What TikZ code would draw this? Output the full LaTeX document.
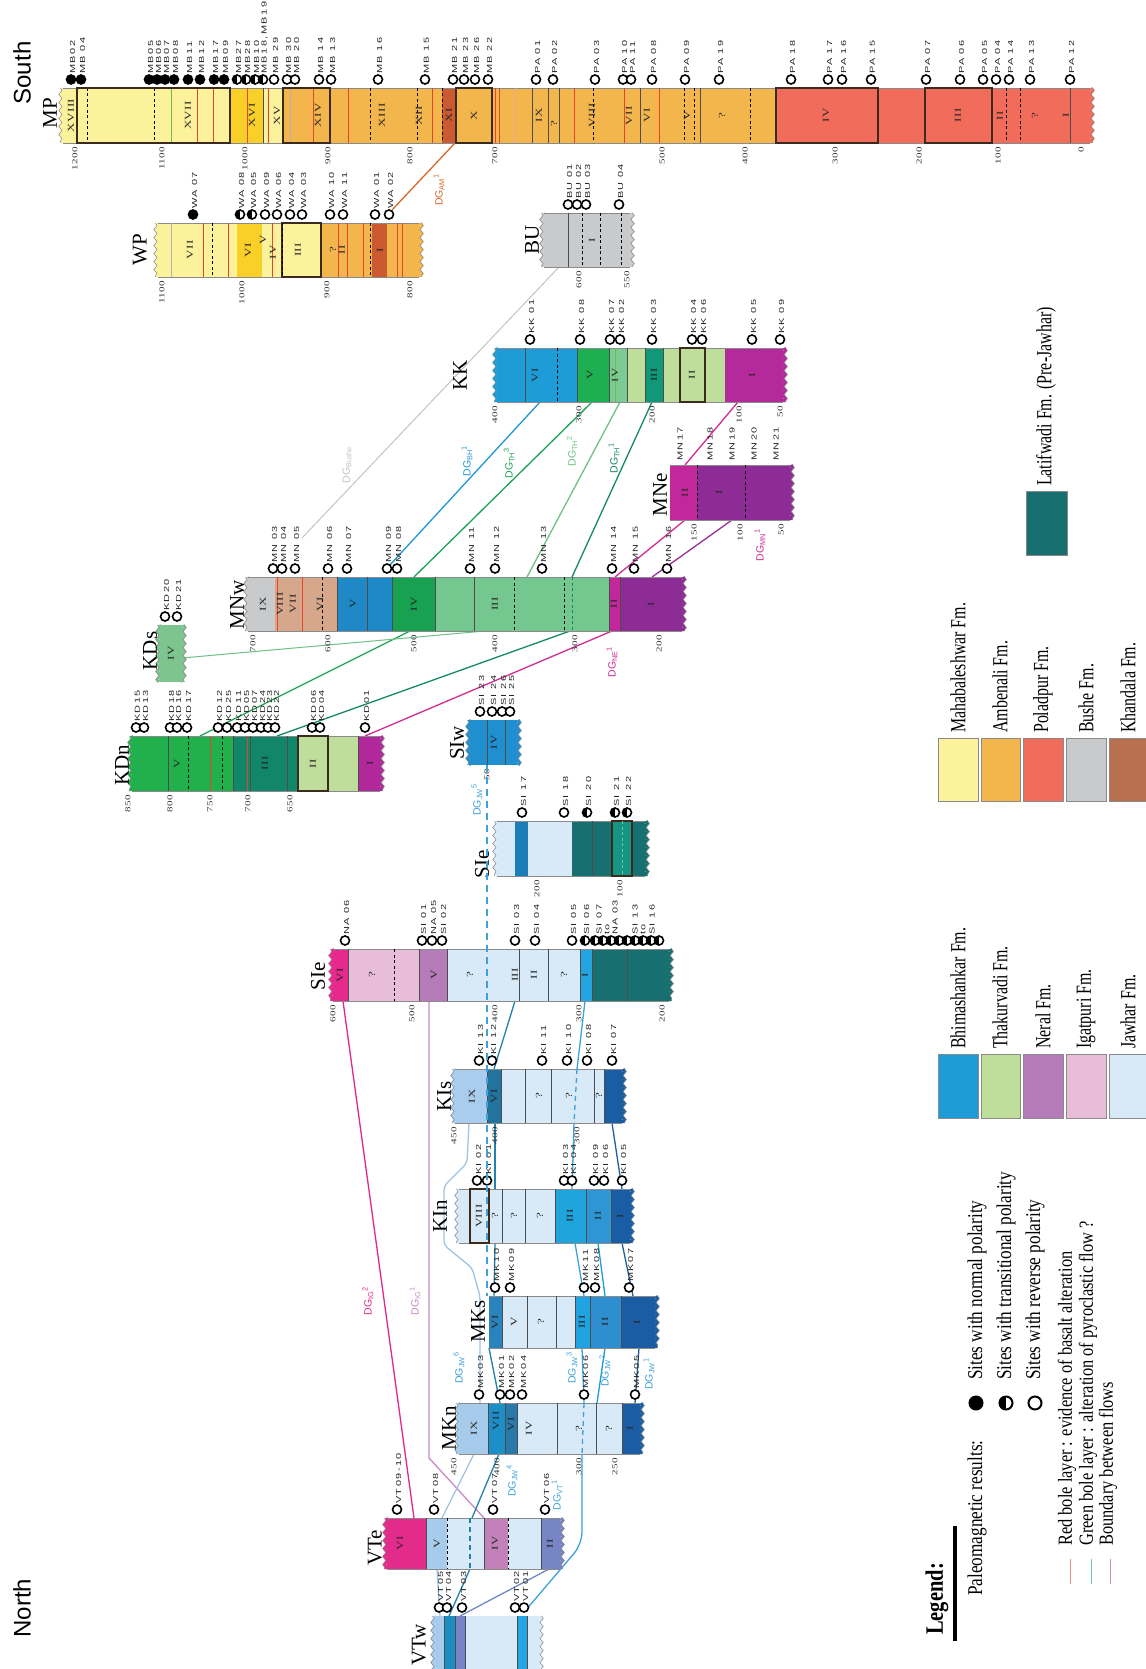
\documentclass[tikz,border=0pt]{standalone}
\usepackage{fontspec}
\setmainfont{Liberation Serif}
\newfontfamily\sitef[FakeStretch=1.5,LetterSpace=20]{Liberation Sans}
\newfontfamily\romfam[FakeStretch=1.45,LetterSpace=5]{Liberation Serif}
\newfontfamily\depfam[FakeStretch=1.45,LetterSpace=5]{Liberation Serif}
\newfontfamily\legfam[FakeStretch=0.74]{Liberation Serif}
\newfontfamily\legfamb[FakeStretch=0.82]{Liberation Serif}
\newfontfamily\sansf{Liberation Sans}
\usetikzlibrary{decorations.pathmorphing}
\definecolor{mah}{HTML}{FCF29B}
\definecolor{gold}{HTML}{F8D028}
\definecolor{amb}{HTML}{F2B64C}
\definecolor{pol}{HTML}{F26C5C}
\definecolor{bushe}{HTML}{C9CACC}
\definecolor{khd}{HTML}{CC5A30}
\definecolor{khleg}{HTML}{B87050}
\definecolor{tanc}{HTML}{D6A78A}
\definecolor{bhim}{HTML}{1E9CD7}
\definecolor{thak}{HTML}{BFDE9C}
\definecolor{neral}{HTML}{B67BB9}
\definecolor{igat}{HTML}{E8BDD7}
\definecolor{jaw}{HTML}{D8EAF7}
\definecolor{lat}{HTML}{17706F}
\definecolor{latB}{HTML}{169583}
\definecolor{kkV}{HTML}{1DAF52}
\definecolor{kkIV}{HTML}{7CCB94}
\definecolor{kkIII}{HTML}{109878}
\definecolor{kkI}{HTML}{B52A9B}
\definecolor{mnII}{HTML}{C2289B}
\definecolor{mnI}{HTML}{8E2C96}
\definecolor{mnwV}{HTML}{1F88C6}
\definecolor{mnwIV}{HTML}{18A150}
\definecolor{mnwIII}{HTML}{75C790}
\definecolor{kds}{HTML}{7DC48E}
\definecolor{kdV}{HTML}{22B04C}
\definecolor{kdIII}{HTML}{128669}
\definecolor{kdI}{HTML}{B0289A}
\definecolor{siw}{HTML}{1F8FCF}
\definecolor{sieB}{HTML}{1C7DB8}
\definecolor{sieVI}{HTML}{E6298C}
\definecolor{bhimI}{HTML}{22A5E0}
\definecolor{kiIX}{HTML}{A9CDEC}
\definecolor{kiVI}{HTML}{22749F}
\definecolor{kiI}{HTML}{1A5DA5}
\definecolor{kinIII}{HTML}{1FA4DD}
\definecolor{kinII}{HTML}{2E96D4}
\definecolor{mksVI}{HTML}{2A83BD}
\definecolor{mksIII}{HTML}{20A3E0}
\definecolor{mksII}{HTML}{2E8ED0}
\definecolor{mknVII}{HTML}{1C8EC8}
\definecolor{mknVI}{HTML}{2A79AB}
\definecolor{vteVI}{HTML}{E32B8C}
\definecolor{lblue}{HTML}{A7CBEA}
\definecolor{vteIV}{HTML}{C282B9}
\definecolor{vteII}{HTML}{7686C5}
\definecolor{vtwIII}{HTML}{1C8DC0}
\definecolor{rbole}{HTML}{E5452D}
\definecolor{gbole}{HTML}{6DBE45}
\definecolor{edgec}{HTML}{8A8A8A}
\definecolor{boxc}{HTML}{3B2A1E}
\definecolor{cAM}{HTML}{D86A2A}
\definecolor{cBU}{HTML}{C4C4C4}
\definecolor{cBH}{HTML}{2196D3}
\definecolor{cTH3}{HTML}{1EA257}
\definecolor{cTH2}{HTML}{6DC383}
\definecolor{cTH1}{HTML}{138A62}
\definecolor{cNE}{HTML}{D02C93}
\definecolor{cMN}{HTML}{9A2E98}
\definecolor{cJW}{HTML}{3DA2DB}
\definecolor{cIG2}{HTML}{E3288A}
\definecolor{cIG1}{HTML}{C98BC4}
\definecolor{cDk}{HTML}{1E5FA0}
\definecolor{cTeal}{HTML}{2382A8}
\definecolor{cLB}{HTML}{9CC4E6}
\newcommand\setbar[2]{\def\bt{#1}\def\bb{#2}\pgfmathsetmacro\bm{(#1+#2)/2}\pgfmathsetmacro\sy{#1-8.5}\pgfmathsetmacro\dy{#2+4}}
\newcommand\zS[3]{\fill[#3] (#1,\bt) rectangle (#2,\bb);}
\newcommand\zT[2][black!70]{\draw[#1,line width=0.7pt] (#2,\bt) -- (#2,\bb);}
\newcommand\zR[2][rbole]{\draw[#1,line width=1pt] (#2,\bt) -- (#2,\bb);}
\newcommand\zD[2][black]{\draw[#1,line width=0.9pt,dash pattern=on 3pt off 2.5pt] (#2,\bt) -- (#2,\bb);}
\newcommand\zB[2]{\draw[boxc,line width=1.8pt] (#1,\bt) rectangle (#2,\bb);}
\newcommand\zN[3][0]{\node[romf] at (#2,\bm+#1) {#3};}
\newcommand\zP[2]{\node[depf] at (#1,\dy) {#2};}
\newcommand\zC[3]{\node[sit#2] at (#1,\sy) {};\node[sitel] at (#1+1.5,\sy-5.5) {#3};}
\newcommand\zO[2]{\draw[edgec,line width=0.5pt] (#1,\bt) -- (#2,\bt) (#1,\bb) -- (#2,\bb);}
\newcommand\wL[2]{\draw[#2,line width=3.2pt,wavy] (#1-1,\bt) -- (#1-1,\bb);\draw[edgec,line width=0.5pt,wavy] (#1-2.6,\bt) -- (#1-2.6,\bb);}
\newcommand\wR[2]{\draw[#2,line width=3.2pt,wavy] (#1+1,\bt) -- (#1+1,\bb);\draw[edgec,line width=0.5pt,wavy] (#1+2.6,\bt) -- (#1+2.6,\bb);}
\tikzset{
 romf/.style={rotate=90,inner sep=0pt,font={\romfam\fontsize{9}{10}\selectfont},text=black!85},
 depf/.style={rotate=90,anchor=east,inner sep=0pt,font={\depfam\fontsize{7.6}{8}\selectfont},text=black!80},
 sitel/.style={rotate=90,anchor=west,inner sep=0pt,font={\sitef\fontsize{7.3}{8}\selectfont},text=black!85},
 sitN/.style={circle,draw=black,fill=black,line width=1.6pt,minimum size=9pt,inner sep=0pt},
 sitR/.style={sitN,fill=white},
 sitT/.style={sitR,path picture={\fill[black] (path picture bounding box.south west) rectangle (path picture bounding box.north);}},
 cname/.style={rotate=90,inner sep=0pt,font=\fontsize{21}{22}\selectfont},
 dglab/.style={rotate=90,inner sep=0pt,font={\sansf\fontsize{10.5}{11}\selectfont}},
 legt/.style={rotate=90,anchor=west,inner sep=0pt,font={\legfam\fontsize{21.5}{23}\selectfont}},
 legu/.style={rotate=90,anchor=west,inner sep=0pt,font={\legfamb\fontsize{21}{23}\selectfont}},
 wavy/.style={decorate,decoration={snake,amplitude=1.6pt,segment length=8pt}},
 cl/.style={line width=1.3pt},
 sw/.style={draw=edgec,line width=0.8pt}
}
\begin{document}
\begin{tikzpicture}[x=1pt,y=-1pt]
\useasboundingbox (0,0) rectangle (1145,1669);
\fill[white] (0,0) rectangle (1145,1669);

% ---------- correlation lines ----------
\draw[cAM,cl] (392,210) -- (455,143);
\draw[cBU,line width=1pt] (559,267) -- (302,538);
\draw[cBH,cl] (540,402) -- (389,566);
\draw[cTH3,cl] (592,402) -- (414,577);
\draw[cTH3,cl] (410,631) -- (200,736);
\draw[cTH2,cl] (620,402) -- (527,577);
\draw[cTH2,line width=1pt] (485,631) -- (182,658);
\draw[cTH1,cl] (652,402) -- (572,577);
\draw[cTH1,cl] (570,631) -- (277,736);
\draw[cNE,cl] (738,402) -- (685,465);
\draw[cNE,cl] (685,520) -- (615,577);
\draw[cNE,cl] (612,631) -- (365,736);
\draw[cMN,cl] (732,520) -- (652,577);
\draw[cIG2,cl] (343,1001) -- (414,1518);
\draw[cIG1,cl] (429,1001) -- (429,1458) -- (484,1518);
\draw[cTeal,cl] (515,1001) -- (494,1069);
\draw[cJW,cl] (585,1001) -- (577,1069);
\draw[cJW,cl] (574,1123) -- (572,1189);
\draw[cDk,cl] (612,1123) -- (622,1189);
\draw[cTeal,cl] (495,1123) -- (495,1189);
\draw[cTeal,cl] (495,1243) -- (494,1296);
\draw[cLB,cl,rounded corners=4pt] (469,1123) -- (467,1163) -- (444,1186) -- (444,1245) -- (472,1268) -- (480,1296) -- (480,1403);
\draw[cJW,cl] (575,1243) -- (584,1296);
\draw[bhim,cl] (598,1243) -- (605,1296);
\draw[cDk,cl] (622,1243) -- (633,1296);
\draw[cTeal,cl] (489,1348) -- (500,1403);
\draw[cJW,cl] (582,1348) -- (584,1403);
\draw[bhim,cl] (605,1348) -- (597,1403);
\draw[cJW,cl,rounded corners=12pt] (582,1454) -- (582,1544) -- (525,1611);
\draw[cDk,cl] (639,1348) -- (635,1403);
\draw[cTeal,cl] (499,1454) -- (472,1518);
\draw[cTeal,cl] (470,1569) -- (449,1616);
\draw[cLB,cl] (474,1454) -- (442,1518);
\draw[cLB,cl] (437,1569) -- (440,1616);
\draw[vteII,cl] (549,1569) -- (460,1616);

% ---------- MP ----------
\setbar{88}{143}
\zS{63}{230}{mah}\zS{230}{263}{gold}\zS{263}{283}{mah}\zS{283}{442}{amb}\zS{442}{456}{khd}\zS{456}{776}{amb}\zS{776}{1090}{pol}
\wL{63}{mah}\wR{1090}{pol}\zO{63}{1090}
\zD{87}\zD{154}\zR[gbole]{171}\zR{197}\zR{213}\zR{247}\zT{263}\zR[rbole,line width=1.6pt]{268}\zT[black!30]{290}\zR{313}\zR{348}
\zD{370}\zD{417}\zR{432}\zD{442}\zR{495}\zR{499}\zR[rbole!50]{515}\zT{532}\zT{548}\zT{559}\zR{574}\zD{593}\zR{624}\zT{640}\zR{659}
\zD{684}\zD{694}\zT{700}\zD{750}\zD{1006}\zD{1020}\zT{1070}
\zB{77}{230}\zB{283}{330}\zB{456}{492}\zB{776}{878}\zB{925}{992}
\zN{71}{XVIII}\zN{188}{XVII}\zN{252}{XVI}\zN{277}{XV}\zN{318}{XIV}\zN{382}{XIII}\zN{419}{XII}\zN{449}{XI}\zN{474}{X}\zN{539}{IX}\zN[8]{554}{?}
\zN{592}{VIII}\zN{629}{VII}\zN{647}{VI}\zN{687}{V}\zN{722}{?}\zN{826}{IV}\zN{958}{III}\zN{1000}{II}\zN{1035}{?}\zN{1066}{I}
\zP{75}{1200}\zP{162}{1100}\zP{245}{1000}\zP{328}{900}\zP{410}{800}\zP{495}{700}\zP{662}{500}\zP{745}{400}\zP{835}{300}\zP{919}{200}\zP{998}{100}\zP{1081}{0}
\zC{71}{N}{MB02}\zC{81}{N}{MB 04}\zC{149}{N}{MB05}\zC{157}{N}{MB06}\zC{165}{N}{MB07}\zC{174}{N}{MB08}\zC{188}{N}{MB11}\zC{200}{N}{MB12}
\zC{214}{N}{MB17}\zC{224}{N}{MB09}\zC{237}{T}{MB27}\zC{246}{T}{MB28}\zC{255}{T}{MB10}\zC{263}{T}{MB18,MB19}
\zC{274}{R}{MB 29}\zC{287}{R}{MB 30}\zC{295}{R}{MB 20}\zC{319}{R}{MB 14}\zC{331}{R}{MB 13}\zC{378}{R}{MB 16}\zC{425}{R}{MB 15}
\zC{453}{R}{MB 21}\zC{464}{R}{MB 23}\zC{475}{R}{MB 26}\zC{488}{R}{MB 22}\zC{536}{R}{PA 01}\zC{553}{R}{PA 02}\zC{595}{R}{PA 03}
\zC{623}{R}{PA 10}\zC{631}{R}{PA 11}\zC{652}{R}{PA 08}\zC{685}{R}{PA 09}\zC{719}{R}{PA 19}\zC{791}{R}{PA 18}\zC{828}{R}{PA 17}\zC{842}{R}{PA 16}
\zC{871}{R}{PA 15}\zC{926}{R}{PA 07}\zC{960}{R}{PA 06}\zC{983}{R}{PA 05}\zC{996}{R}{PA 04}\zC{1009}{R}{PA 14}\zC{1030}{R}{PA 13}\zC{1070}{R}{PA 12}
\node[cname] (nMP) at (50,113) {MP};
\node[rotate=90,inner sep=0pt,font={\sansf\fontsize{24}{26}\selectfont}] (nS) at (22,73) {South};

% ---------- WP ----------
\setbar{223}{277}
\zS{158}{237}{mah}\zS{237}{262}{gold}\zS{262}{321}{mah}\zS{321}{372}{amb}\zS{372}{387}{khd}\zS{387}{419}{amb}
\wL{158}{mah}\wR{419}{amb}\zO{158}{419}
\zT[black!30]{171}\zR{203}\zD{212}\zR{228}\zR{272}\zR{338}\zR{347}\zR{363}\zD{370}\zR{397}\zR{402}
\zB{282}{321}\zD{282}
\zN{190}{VII}\zN{248}{VI}\zN[-10]{263}{V}\zN[2]{273}{IV}\zN{298}{III}\zN{333}{?}\zN{342}{II}\zN{380}{I}
\zP{162}{1100}\zP{242}{1000}\zP{327}{900}\zP{410}{800}
\zC{193}{N}{WA 07}\zC{240}{T}{WA 08}\zC{252}{T}{WA 05}\zC{265}{R}{WA 09}\zC{277}{R}{WA 06}\zC{290}{R}{WA 04}\zC{302}{R}{WA 03}
\zC{330}{R}{WA 10}\zC{343}{R}{WA 11}\zC{375}{R}{WA 01}\zC{389}{R}{WA 02}
\node[cname] (nWP) at (140,250) {WP};
\node[dglab,text=cAM] (lAM) at (439,190) {DG\textsubscript{AM}\textsuperscript{1}};

% ---------- BU ----------
\setbar{213}{267}
\zS{544}{630}{bushe}\wL{544}{bushe}\wR{630}{bushe}\zO{544}{630}
\zT{568}\zD{582}\zD{600}\zD{621}
\zN{592}{I}
\zP{579}{600}\zP{627}{550}
\zC{568}{R}{BU 01}\zC{577}{R}{BU 02}\zC{586}{R}{BU 03}\zC{619}{R}{BU 04}
\node[cname] (nBU) at (532,240) {BU};

% ---------- KK ----------
\setbar{348}{402}
\zS{497}{577}{bhim}\zS{577}{609}{kkV}\zS{609}{627}{kkIV}\zS{627}{645}{thak}\zS{645}{663}{kkIII}\zS{663}{725}{thak}\zS{725}{783}{kkI}
\wL{497}{bhim}\wR{783}{kkI}\zO{497}{783}
\zT{525}\zD{557}\zT{577}\zT{609}\zT[gbole]{615}\zT{627}\zT{645}\zT{663}
\zB{680}{705}
\zN{535}{VI}\zN{590}{V}\zN{615}{IV}\zN{654}{III}\zN{692}{II}\zN{752}{I}
\zP{495}{400}\zP{579}{300}\zP{652}{200}\zP{739}{100}\zP{780}{50}
\zC{530}{R}{KK 01}\zC{580}{R}{KK 08}\zC{610}{R}{KK 07}\zC{620}{R}{KK 02}\zC{652}{R}{KK 03}\zC{692}{R}{KK 04}\zC{702}{R}{KK 06}\zC{752}{R}{KK 05}\zC{780}{R}{KK 09}
\node[cname] (nKK) at (460,375) {KK};
\node[dglab,text=cBU] (lBU) at (347,465) {DG\textsubscript{Bushe}};
\node[dglab,text=cBH] (lBH) at (467,461) {DG\textsubscript{BH}\textsuperscript{1}};
\node[dglab,text=cTH3] (lT3) at (509,463) {DG\textsubscript{TH}\textsuperscript{3}};
\node[dglab,text=cTH2] (lT2) at (572,451) {DG\textsubscript{TH}\textsuperscript{2}};
\node[dglab,text=cTH1] (lT1) at (614,458) {DG\textsubscript{TH}\textsuperscript{1}};

% ---------- MNe ----------
\setbar{465}{520}
\zS{670}{697}{mnII}\zS{697}{790}{mnI}\wR{790}{mnI}\zO{670}{790}
\zD{697}\zD{745}
\zN{685}{II}\zN{719}{I}
\zP{694}{150}\zP{740}{100}\zP{781}{50}
\foreach \xx/\tt in {680/MN17,710/MN18,732/MN19,754/MN20,776/MN21}{\node[sitel] at (\xx,461) {\tt};}
\node[cname] (nMNe) at (660,495) {MNe};
\node[dglab,text=cNE] (lMN) at (760,545) {DG\textsubscript{MN}\textsuperscript{1}};

% ---------- MNw ----------
\setbar{577}{631}
\zS{248}{275}{bushe}\zS{275}{337}{tanc}\zS{337}{392}{mnwV}\zS{392}{435}{mnwIV}\zS{435}{609}{mnwIII}\zS{609}{620}{mnII}\zS{620}{682}{mnI}
\wL{248}{bushe}\wR{682}{mnI}\zO{248}{682}
\zR{277}\zR{302}\zD{322}\zT{337}\zT{367}\zT{392}\zT{435}\zT{474}\zD{514}\zD{564}\zD[kdIII]{572}\zT{609}\zT{620}
\zN{263}{IX}\zN{280}{VIII}\zN{293}{VII}\zN{320}{VI}\zN{353}{V}\zN{414}{IV}\zN{495}{III}\zN{614}{II}\zN{651}{I}
\zP{253}{700}\zP{328}{600}\zP{414}{500}\zP{495}{400}\zP{575}{300}\zP{659}{200}
\zC{273}{R}{MN 03}\zC{282}{R}{MN 04}\zC{295}{R}{MN 05}\zC{328}{R}{MN 06}\zC{347}{R}{MN 07}\zC{387}{R}{MN 09}\zC{397}{R}{MN 08}
\zC{470}{R}{MN 11}\zC{495}{R}{MN 12}\zC{542}{R}{MN 13}\zC{612}{R}{MN 14}\zC{634}{R}{MN 15}\zC{667}{R}{MN 16}
\node[cname] (nMNw) at (237,605) {MNw};
\node[dglab,text=cNE] (lNE) at (612,662) {DG\textsubscript{NE}\textsuperscript{1}};

% ---------- KDs ----------
\setbar{625}{682}
\zS{160}{182}{kds}\wL{160}{kds}\wR{182}{kds}
\zN{171}{IV}
\zC{165}{R}{KD20}\zC{177}{R}{KD21}
\node[cname] (nKDs) at (150,651) {KDs};

% ---------- KDn ----------
\setbar{736}{791}
\zS{132}{233}{kdV}\zS{233}{298}{kdIII}\zS{298}{358}{thak}\zS{358}{380}{kdI}
\wL{132}{kdV}\wR{380}{kdI}\zO{132}{380}
\zT{168}\zD{188}\zR{210}\zD{222}\zT{233}\zR{247}\zT{250}\zT{287}\zT{358}
\zB{298}{328}
\zN{177}{V}\zN{265}{III}\zN{313}{II}\zN{370}{I}
\zP{128}{850}\zP{170}{800}\zP{210}{750}\zP{248}{700}\zP{290}{650}
\zC{136}{R}{KD15}\zC{144}{R}{KD13}\zC{170}{R}{KD18}\zC{177}{R}{KD16}\zC{187}{R}{KD17}\zC{218}{R}{KD12}\zC{227}{R}{KD25}
\zC{237}{R}{KD11}\zC{245}{R}{KD05}\zC{253}{R}{KD07}\zC{261}{R}{KD24}\zC{268}{R}{KD23}\zC{275}{R}{KD22}\zC{312}{R}{KD06}\zC{320}{R}{KD04}\zC{365}{R}{KD01}
\node[cname] (nKDn) at (122,765) {KDn};

% ---------- SIw ----------
\setbar{720}{765}
\zS{470}{517}{siw}\wL{470}{siw}\wR{517}{siw}
\zT{487}\zT{505}
\zN{494}{IV}
\zP{487}{50}
\zC{480}{R}{SI 23}\zC{492}{R}{SI 24}\zC{502}{R}{SI 26}\zC{510}{R}{SI 25}
\node[cname] (nSIw) at (457,743) {SIw};

% ---------- SIe small ----------
\setbar{821}{876}
\zS{497}{515}{jaw}\zS{515}{528}{sieB}\zS{528}{572}{jaw}\zS{572}{645}{lat}\zS{612}{632}{latB}
\wL{497}{jaw}\wR{645}{lat}\zO{497}{645}
\zT{592}\zB{612}{632}\zD[latB!60]{622}
\zP{537}{200}\zP{620}{100}
\zC{522}{R}{SI 17}\zC{564}{R}{SI 18}\zC{587}{T}{SI 20}\zC{615}{T}{SI 21}\zC{627}{T}{SI 22}
\node[cname] (nSIe2) at (482,864) {SIe};

% ---------- SIe big ----------
\setbar{949}{1001}
\zS{333}{348}{sieVI}\zS{348}{419}{igat}\zS{419}{447}{neral}\zS{447}{580}{jaw}\zS{580}{592}{bhimI}\zS{592}{669}{lat}
\wL{333}{sieVI}\wR{669}{lat}\zO{333}{669}
\zT{348}\zD{394}\zT{419}\zT{447}\zT{519}\zT{548}\zT{580}\zT{592}\zT{627}
\zN{340}{VI}\zN{372}{?}\zN{434}{V}\zN{470}{?}\zN{515}{III}\zN{534}{II}\zN{564}{?}\zN{585}{I}
\zP{333}{600}\zP{412}{500}\zP{495}{400}\zP{579}{300}\zP{662}{200}
\zC{345}{R}{NA 06}\zC{422}{R}{SI 01}\zC{432}{R}{NA 05}\zC{442}{R}{SI 02}\zC{515}{R}{SI 03}\zC{535}{R}{SI 04}\zC{572}{R}{SI 05}\zC{585}{T}{SI 06}
\foreach \xx in {595,603,611,619,627,635,643,651,659}{\node[sitT] at (\xx,940.5) {};}
\foreach \xx/\tt in {599/SI 07,607/to,615/NA 03,635/SI 13,643/to,652/SI 16}{\node[sitel] at (\xx,935) {\tt};}
\node[cname] (nSIe) at (318,976) {SIe};
\node[dglab,text=cJW] (lJ5) at (477,800) {DG\textsubscript{JW}\textsuperscript{5}};

% ---------- KIs ----------
\setbar{1069}{1123}
\zS{455}{487}{kiIX}\zS{487}{501}{kiVI}\zS{501}{604}{jaw}\zS{604}{622}{kiI}
\wL{455}{kiIX}\wR{622}{kiI}\zO{455}{622}
\zT{487}\zT{501}\zT{525}\zT{551}\zT{594}\zT{604}
\zN{472}{IX}\zN{494}{VI}\zN{539}{?}\zN{569}{?}\zN{599}{?}
\zP{454}{450}\zP{495}{400}\zP{577}{300}
\zC{479}{R}{KI 13}\zC{492}{R}{KI 12}\zC{542}{R}{KI 11}\zC{567}{R}{KI 10}\zC{587}{R}{KI 08}\zC{612}{R}{KI 07}
\node[cname] (nKIs) at (444,1096) {KIs};

% ---------- KIn ----------
\setbar{1189}{1243}
\zS{459}{555}{jaw}\zS{555}{586}{kinIII}\zS{586}{611}{kinII}\zS{611}{630}{kiI}
\wL{459}{jaw}\wR{630}{kiI}\zO{459}{630}
\zT{502}\zT{525}\zT{555}\zT{586}\zT{611}
\zB{470}{489}
\zN{479}{VIII}\zN{495}{?}\zN{514}{?}\zN{540}{?}\zN{570}{III}\zN{598}{II}\zN{620}{I}
\zC{477}{R}{KI 02}\zC{487}{R}{KI 01}\zC{564}{R}{KI 03}\zC{572}{R}{KI 04}\zC{594}{R}{KI 09}\zC{604}{R}{KI 06}\zC{622}{R}{KI 05}
\node[cname] (nKIn) at (440,1216) {KIn};

% ---------- MKs ----------
\setbar{1296}{1348}
\zS{489}{502}{mksVI}\zS{502}{575}{jaw}\zS{575}{590}{mksIII}\zS{590}{621}{mksII}\zS{621}{655}{kiI}
\wR{655}{kiI}\zO{489}{655}
\zT{502}\zT{527}\zT{556}\zT{575}\zT{590}\zT{621}
\zN{495}{VI}\zN{514}{V}\zN{541}{?}\zN{582}{III}\zN{605}{II}\zN{637}{I}
\zC{495}{R}{MK10}\zC{510}{R}{MK09}\zC{584}{R}{MK11}\zC{595}{R}{MK08}\zC{629}{R}{MK07}
\node[cname] (nMKs) at (478,1321) {MKs};

% ---------- MKn ----------
\setbar{1403}{1454}
\zS{459}{488}{lblue}\zS{488}{505}{mknVII}\zS{505}{517}{mknVI}\zS{517}{622}{jaw}\zS{622}{640}{kiI}
\wL{459}{lblue}\wR{640}{kiI}\zO{459}{640}
\zT{488}\zT{505}\zT{517}\zT{557}\zT{596}\zT{622}
\zN{474}{IX}\zN[-8]{496}{VII}\zN[-4]{511}{VI}\zN{529}{IV}\zN{579}{?}\zN{609}{?}\zN{630}{I}
\zP{454}{450}\zP{497}{400}\zP{579}{300}\zP{615}{250}
\zC{479}{R}{MK03}\zC{500}{R}{MK01}\zC{510}{R}{MK02}\zC{522}{R}{MK04}\zC{584}{R}{MK06}\zC{635}{R}{MK05}
\node[cname] (nMKn) at (449,1428) {MKn};

% ---------- VTe ----------
\setbar{1518}{1569}
\zS{387}{426}{vteVI}\zS{426}{447}{lblue}\zS{447}{484}{jaw}\zS{484}{508}{vteIV}\zS{508}{541}{jaw}\zS{541}{560}{vteII}
\wL{387}{vteVI}\wR{560}{vteII}\zO{387}{560}
\zT{426}\zD{447}\zT{484}\zD{508}\zT{541}
\zN{400}{VI}\zN{437}{V}\zN{495}{IV}\zN{550}{II}
\zC{397}{R}{VT09-10}\zC{434}{R}{VT08}\zC{493}{R}{VT07}\zC{545}{R}{VT06}
\node[cname] (nVTe) at (375,1548) {VTe};

% ---------- VTw ----------
\setbar{1616}{1685}
\zS{435}{444}{lblue}\zS{444}{455}{vtwIII}\zS{455}{465}{vteII}\zS{465}{517}{jaw}\zS{517}{527}{bhimI}\zS{527}{539}{jaw}
\wL{435}{lblue}\wR{539}{jaw}
\zT{444}\zT{455}\zT{465}\zT{517}\zT{527}
\zC{439}{R}{VT05}\zC{447}{R}{VT04}\zC{462}{R}{VT03}\zC{515}{R}{VT02}\zC{524}{R}{VT01}
\node[cname] (nVTw) at (419,1645) {VTw};

% dashed lines over columns
\draw[cJW,line width=1.6pt,dash pattern=on 7pt off 5pt] (487,765) -- (487,1296);
\draw[cJW,cl,dash pattern=on 5pt off 4pt] (577,1069) -- (574,1123);
\draw[cJW,cl,dash pattern=on 5pt off 4pt] (584,1403) -- (582,1454);
\draw[cTeal,cl,dash pattern=on 5pt off 4pt] (470,1518) -- (470,1569);

% lower labels
\node[dglab,text=cIG2] (lI2) at (368,1301) {DG\textsubscript{IG}\textsuperscript{2}};
\node[dglab,text=cIG1] (lI1) at (415,1301) {DG\textsubscript{IG}\textsuperscript{1}};
\node[dglab,text=cJW] (lJ6) at (459,1368) {DG\textsubscript{JW}\textsuperscript{6}};
\node[dglab,text=cJW] (lJ4) at (512,1481) {DG\textsubscript{JW}\textsuperscript{4}};
\node[dglab,text=cJW] (lJ3) at (572,1368) {DG\textsubscript{JW}\textsuperscript{3}};
\node[dglab,text=cJW] (lJ2) at (605,1371) {DG\textsubscript{JW}\textsuperscript{2}};
\node[dglab,text=cJW] (lJ1) at (649,1374) {DG\textsubscript{JW}\textsuperscript{1}};
\node[dglab,text=cJW] (lVT) at (557,1495) {DG\textsubscript{VT}\textsuperscript{1}};

% ---------- legend ----------
\node[rotate=90,inner sep=0pt,font={\sansf\fontsize{24}{26}\selectfont}] (nN) at (22,1608) {North};
\fill[mah,sw] (938,738) rectangle (978,801);
\fill[amb,sw] (981,738) rectangle (1020,801);
\fill[pol,sw] (1023,738) rectangle (1063,801);
\fill[bushe,sw] (1066,738) rectangle (1106,801);
\fill[khleg,sw] (1109,738) rectangle (1149,801);
\node[legt] (f1) at (958,733) {Mahabaleshwar Fm.};
\node[legt] (f2) at (1000,733) {Ambenali Fm.};
\node[legt] (f3) at (1043,733) {Poladpur Fm.};
\node[legt] (f4) at (1086,733) {Bushe Fm.};
\node[legt] (f5) at (1128,733) {Khandala Fm.};
\fill[bhim,sw] (938,1054) rectangle (978,1118);
\fill[thak,sw] (981,1054) rectangle (1020,1118);
\fill[neral,sw] (1023,1054) rectangle (1063,1118);
\fill[igat,sw] (1066,1054) rectangle (1106,1118);
\fill[jaw,sw] (1109,1054) rectangle (1149,1118);
\node[legt] (g1) at (958,1049) {Bhimashankar Fm.};
\node[legt] (g2) at (1000,1049) {Thakurvadi Fm.};
\node[legt] (g3) at (1043,1049) {Neral Fm.};
\node[legt] (g4) at (1086,1049) {Igatpuri Fm.};
\node[legt] (g5) at (1128,1049) {Jawhar Fm.};
\fill[lat,sw] (1026,491) rectangle (1067,555);
\node[legt] (g6) at (1046,486) {Latifwadi Fm. (Pre-Jawhar)};

\node[rotate=90,inner sep=0pt,font={\legfamb\bfseries\fontsize{25}{27}\selectfont}] (lg) at (937,1599) {Legend:};
\draw[line width=4pt] (955,1526) -- (955,1641);
\node[legu] (pm) at (977,1596) {Paleomagnetic results:};
\node[sitN,minimum size=13pt,line width=2pt] (c1) at (976,1403) {};
\node[sitT,minimum size=13pt,line width=2pt] (c2) at (1006,1403) {};
\node[sitR,minimum size=13pt,line width=2pt] (c3) at (1035,1403) {};
\node[legu] (t1) at (977,1380) {Sites with normal polarity};
\node[legu] (t2) at (1006,1380) {Sites with transitional polarity};
\node[legu] (t3) at (1035,1380) {Sites with reverse polarity};
\draw[rbole!60,line width=1pt] (1070,1559) -- (1070,1584);
\draw[cyan!50!green!60,line width=1pt] (1091,1559) -- (1091,1584);
\draw[black!60!red!40,line width=1pt] (1110,1559) -- (1110,1584);
\node[legu,font={\legfamb\fontsize{20}{22}\selectfont}] (r1) at (1067,1546) {Red bole layer : evidence of basalt alteration};
\node[legu,font={\legfamb\fontsize{20}{22}\selectfont}] (r2) at (1088,1546) {Green bole layer : alteration of pyroclastic flow ?};
\node[legu,font={\legfamb\fontsize{20}{22}\selectfont}] (r3) at (1108,1546) {Boundary between flows};
\end{tikzpicture}
\end{document}
